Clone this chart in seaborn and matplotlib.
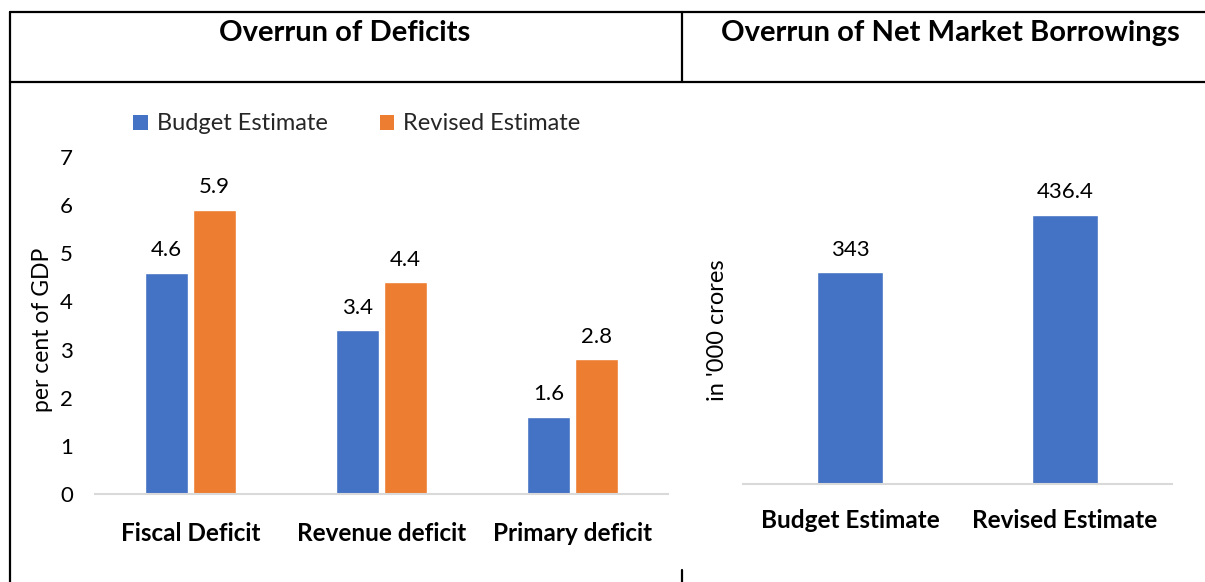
import matplotlib
matplotlib.use("Agg")
import matplotlib.pyplot as plt
from matplotlib.lines import Line2D
from matplotlib.patches import Patch
import seaborn as sns
import pandas as pd

# ---- data ----
deficit_categories = ["Fiscal Deficit", "Revenue deficit", "Primary deficit"]
budget_estimate = [4.6, 3.4, 1.6]
revised_estimate = [5.9, 4.4, 2.8]
series_names = ["Budget Estimate", "Revised Estimate"]

borrow_categories = ["Budget Estimate", "Revised Estimate"]
borrow_values = [343, 436.4]

left_title = "Overrun of Deficits"
right_title = "Overrun of Net Market Borrowings"
left_ylabel = "per cent of GDP"
right_ylabel = "in '000 crores"
left_yticks = [0, 1, 2, 3, 4, 5, 6, 7]

BLUE = "#4472C4"
ORANGE = "#ED7D31"

sns.set_theme(style="white")
plt.rcParams["font.family"] = ["Lato", "DejaVu Sans"]

W, H = 1205, 582
fig = plt.figure(figsize=(W / 100, H / 100), dpi=100)
fig.patch.set_facecolor("white")

def fx(px):
    return px / W

def fy(py):
    return 1 - py / H

# ---- left chart ----
df = pd.DataFrame({
    "category": deficit_categories * 2,
    "series": [series_names[0]] * 3 + [series_names[1]] * 3,
    "value": budget_estimate + revised_estimate,
})
axL = fig.add_axes([fx(95), fy(494), fx(668) - fx(95), fy(157) - fy(494)])
sns.barplot(data=df, x="category", y="value", hue="series",
            palette=[BLUE, ORANGE], width=0.5, gap=0.1, ax=axL,
            legend=False, saturation=1)
axL.set_ylim(0, 7)
axL.set_yticks(left_yticks)
axL.set_xlabel("")
axL.set_ylabel(left_ylabel, fontsize=16.5, color="black")
axL.yaxis.set_label_coords((43 - 95) / 573, 0.487)
axL.yaxis.label.set_va("center")
for c in axL.containers:
    axL.bar_label(c, labels=[f"{v:g}" for v in c.datavalues], padding=9,
                  fontsize=16, color="black")
axL.tick_params(axis="y", length=0, pad=16, labelsize=16, labelcolor="black")
axL.tick_params(axis="x", length=0, pad=20, labelsize=17.5, labelcolor="black")
for lbl in axL.get_xticklabels():
    lbl.set_fontweight("bold")
for s in ["left", "right", "top"]:
    axL.spines[s].set_visible(False)
axL.spines["bottom"].set_color("#D9D9D9")
axL.spines["bottom"].set_linewidth(1.5)
axL.set_facecolor("none")

handles = [Patch(facecolor=BLUE, edgecolor="none"), Patch(facecolor=ORANGE, edgecolor="none")]
fig.legend(handles, series_names, loc="center", bbox_to_anchor=(fx(357), fy(124)),
           ncol=2, frameon=False, fontsize=17, handlelength=0.6, handleheight=0.6,
           handletextpad=0.4, columnspacing=2.2, borderaxespad=0)

# ---- right chart ----
dfR = pd.DataFrame({"category": borrow_categories, "value": borrow_values})
axR = fig.add_axes([fx(743), fy(484), fx(1172) - fx(743), fy(157) - fy(484)])
sns.barplot(data=dfR, x="category", y="value", color=BLUE, width=0.31,
            ax=axR, saturation=1)
axR.set_ylim(0, 530)
axR.set_yticks([])
axR.set_xlabel("")
axR.set_ylabel(right_ylabel, fontsize=17, color="black")
axR.yaxis.set_label_coords((718 - 743) / 429, 0.47)
axR.yaxis.label.set_va("center")
for c in axR.containers:
    axR.bar_label(c, labels=[f"{v:g}" for v in c.datavalues], padding=9,
                  fontsize=16, color="black")
axR.tick_params(axis="x", length=0, pad=18, labelsize=17.5, labelcolor="black")
for lbl in axR.get_xticklabels():
    lbl.set_fontweight("bold")
for s in ["left", "right", "top"]:
    axR.spines[s].set_visible(False)
axR.spines["bottom"].set_color("#D9D9D9")
axR.spines["bottom"].set_linewidth(1.5)
axR.set_facecolor("none")

# ---- titles & table frame ----
fig.text(fx(345), fy(33), left_title, ha="center", va="center",
         fontsize=21, fontweight="bold", color="black")
fig.text(fx(950), fy(33), right_title, ha="center", va="center",
         fontsize=21, fontweight="bold", color="black")

lw = 1.6
fig.add_artist(Line2D([fx(10), 1], [fy(12), fy(12)], color="black", lw=lw, transform=fig.transFigure))
fig.add_artist(Line2D([fx(10), 1], [fy(82), fy(82)], color="black", lw=lw, transform=fig.transFigure))
fig.add_artist(Line2D([fx(10), fx(10)], [fy(12), 0], color="black", lw=lw, transform=fig.transFigure))
fig.add_artist(Line2D([fx(682), fx(682)], [fy(12), fy(82)], color="black", lw=lw, transform=fig.transFigure))
fig.add_artist(Line2D([fx(682), fx(682)], [fy(570), 0], color="black", lw=lw, transform=fig.transFigure))

fig.savefig("out.png", dpi=100, facecolor="white")
